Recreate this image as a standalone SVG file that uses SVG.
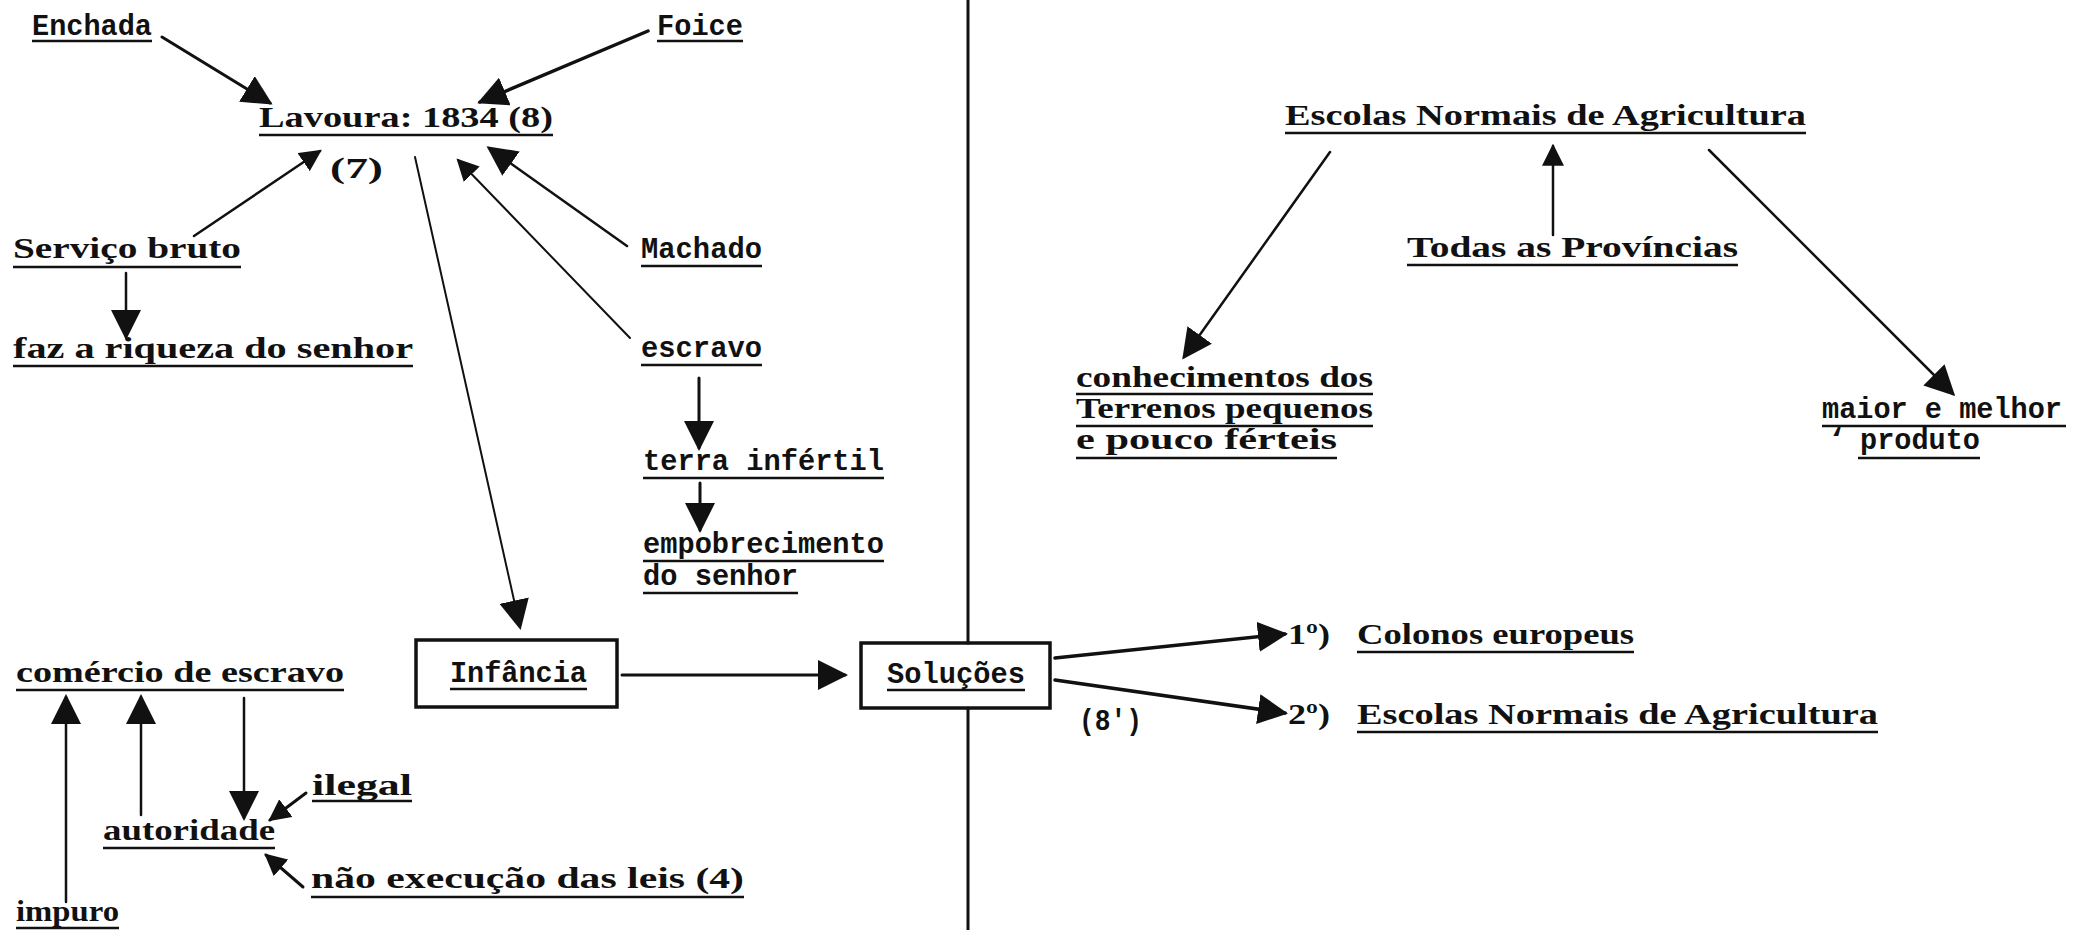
<svg xmlns="http://www.w3.org/2000/svg" width="2073" height="930" viewBox="0 0 2073 930">
  <defs>
    <style>
      .w { font-family: "Liberation Mono", "DejaVu Sans Mono", monospace; font-weight: bold; font-size: 30px; fill: #111; }
      .c { font-family: "Liberation Serif", "DejaVu Serif", serif; font-weight: bold; font-size: 30px; fill: #111; }
      .ul { stroke: #111; stroke-width: 2.5; fill: none; }
      .ln { stroke: #111; fill: none; stroke-linecap: round; }
      .box { stroke: #111; stroke-width: 3.5; fill: none; }
    </style>
    <marker id="ah" markerUnits="userSpaceOnUse" markerWidth="30" markerHeight="30" viewBox="0 0 10 10" refX="9" refY="5" orient="auto">
      <path d="M0,0 L10,5 L0,10 z" fill="#111"/>
    </marker>
    <marker id="ahs" markerUnits="userSpaceOnUse" markerWidth="22" markerHeight="22" viewBox="0 0 10 10" refX="9" refY="5" orient="auto">
      <path d="M0,0 L10,5 L0,10 z" fill="#111"/>
    </marker>
  </defs>

  <!-- divider between the two halves -->
  <g id="divider">
    <line class="ln" x1="968" y1="0" x2="968" y2="643" stroke-width="3"/>
    <line class="ln" x1="968" y1="708" x2="968" y2="930" stroke-width="3"/>
  </g>

  <!-- connectors -->
  <g id="connectors">
    <line class="ln" x1="162" y1="37" x2="270" y2="103" stroke-width="3" marker-end="url(#ah)"/>
    <line class="ln" x1="648" y1="31" x2="480" y2="102" stroke-width="3.5" marker-end="url(#ah)"/>
    <line class="ln" x1="194" y1="236" x2="320" y2="151" stroke-width="2.5" marker-end="url(#ahs)"/>
    <line class="ln" x1="627" y1="246" x2="489" y2="148" stroke-width="2.5" marker-end="url(#ah)"/>
    <line class="ln" x1="630" y1="338" x2="458" y2="160" stroke-width="2" marker-end="url(#ahs)"/>
    <line class="ln" x1="415" y1="157" x2="520" y2="627" stroke-width="2" marker-end="url(#ah)"/>
    <line class="ln" x1="126" y1="273" x2="126" y2="337" stroke-width="2.5" marker-end="url(#ah)"/>
    <line class="ln" x1="699" y1="378" x2="699" y2="448" stroke-width="3" marker-end="url(#ah)"/>
    <line class="ln" x1="700" y1="483" x2="700" y2="530" stroke-width="3" marker-end="url(#ah)"/>
    <line class="ln" x1="622" y1="675" x2="845" y2="675" stroke-width="3" marker-end="url(#ah)"/>
    <line class="ln" x1="1055" y1="658" x2="1285" y2="634" stroke-width="3.5" marker-end="url(#ah)"/>
    <line class="ln" x1="1055" y1="680" x2="1285" y2="713" stroke-width="3.5" marker-end="url(#ah)"/>
    <line class="ln" x1="66" y1="902" x2="66" y2="697" stroke-width="2.5" marker-end="url(#ah)"/>
    <line class="ln" x1="141" y1="815" x2="141" y2="697" stroke-width="2.5" marker-end="url(#ah)"/>
    <line class="ln" x1="244" y1="698" x2="244" y2="818" stroke-width="2.5" marker-end="url(#ah)"/>
    <line class="ln" x1="306" y1="793" x2="270" y2="820" stroke-width="3" marker-end="url(#ahs)"/>
    <line class="ln" x1="303" y1="887" x2="266" y2="855" stroke-width="3" marker-end="url(#ahs)"/>
    <line class="ln" x1="1330" y1="152" x2="1184" y2="357" stroke-width="2.5" marker-end="url(#ah)"/>
    <line class="ln" x1="1553" y1="235" x2="1553" y2="146" stroke-width="2.5" marker-end="url(#ahs)"/>
    <line class="ln" x1="1709" y1="150" x2="1953" y2="394" stroke-width="2.5" marker-end="url(#ah)"/>
  </g>

  <g id="enchada">
    <text class="w" x="32" y="35" textLength="120" lengthAdjust="spacingAndGlyphs">Enchada</text>
    <line class="ul" x1="32" y1="41" x2="152" y2="41"/>
  </g>
  <g id="foice">
    <text class="w" x="657" y="35" textLength="86" lengthAdjust="spacingAndGlyphs">Foice</text>
    <line class="ul" x1="657" y1="41" x2="743" y2="41"/>
  </g>
  <g id="lavoura">
    <text class="c" x="259" y="127" textLength="294" lengthAdjust="spacingAndGlyphs">Lavoura: 1834 (8)</text>
    <line class="ul" x1="259" y1="135" x2="553" y2="135"/>
    <text class="c" x="330" y="178" font-size="46" textLength="53" lengthAdjust="spacingAndGlyphs">(7)</text>
  </g>
  <g id="servico">
    <text class="c" x="13" y="258" textLength="228" lengthAdjust="spacingAndGlyphs">Serviço bruto</text>
    <line class="ul" x1="13" y1="267" x2="241" y2="267"/>
  </g>
  <g id="riqueza">
    <text class="c" x="13" y="358" textLength="400" lengthAdjust="spacingAndGlyphs">faz a riqueza do senhor</text>
    <line class="ul" x1="13" y1="366" x2="413" y2="366"/>
  </g>
  <g id="machado">
    <text class="w" x="641" y="258" textLength="121" lengthAdjust="spacingAndGlyphs">Machado</text>
    <line class="ul" x1="641" y1="266" x2="762" y2="266"/>
  </g>
  <g id="escravo">
    <text class="w" x="641" y="357" textLength="121" lengthAdjust="spacingAndGlyphs">escravo</text>
    <line class="ul" x1="641" y1="365" x2="762" y2="365"/>
  </g>
  <g id="terra">
    <text class="w" x="643" y="470" textLength="241" lengthAdjust="spacingAndGlyphs">terra infértil</text>
    <line class="ul" x1="643" y1="478" x2="884" y2="478"/>
  </g>
  <g id="empobrecimento">
    <text class="w" x="643" y="553" textLength="241" lengthAdjust="spacingAndGlyphs">empobrecimento</text>
    <line class="ul" x1="643" y1="561" x2="884" y2="561"/>
    <text class="w" x="643" y="585" textLength="155" lengthAdjust="spacingAndGlyphs">do senhor</text>
    <line class="ul" x1="643" y1="593" x2="798" y2="593"/>
  </g>
  <g id="infancia">
    <rect class="box" x="416" y="640" width="201" height="67"/>
    <text class="w" x="450" y="682" textLength="137" lengthAdjust="spacingAndGlyphs">Infância</text>
    <line class="ul" x1="450" y1="689" x2="587" y2="689"/>
  </g>
  <g id="solucoes">
    <rect class="box" x="861" y="643" width="189" height="65"/>
    <text class="w" x="887" y="683" textLength="138" lengthAdjust="spacingAndGlyphs">Soluções</text>
    <line class="ul" x1="887" y1="690" x2="1025" y2="690"/>
  </g>
  <g id="comercio">
    <text class="c" x="16" y="682" textLength="328" lengthAdjust="spacingAndGlyphs">comércio de escravo</text>
    <line class="ul" x1="16" y1="690" x2="344" y2="690"/>
  </g>
  <g id="ilegal">
    <text class="c" x="312" y="795" textLength="100" lengthAdjust="spacingAndGlyphs">ilegal</text>
    <line class="ul" x1="312" y1="801" x2="412" y2="801"/>
  </g>
  <g id="autoridade">
    <text class="c" x="103" y="840" textLength="172" lengthAdjust="spacingAndGlyphs">autoridade</text>
    <line class="ul" x1="103" y1="848" x2="275" y2="848"/>
  </g>
  <g id="nao-execucao">
    <text class="c" x="311" y="888" textLength="433" lengthAdjust="spacingAndGlyphs">não execução das leis (4)</text>
    <line class="ul" x1="311" y1="897" x2="744" y2="897"/>
  </g>
  <g id="impuro">
    <text class="c" x="16" y="921" textLength="103" lengthAdjust="spacingAndGlyphs">impuro</text>
    <line class="ul" x1="16" y1="928" x2="119" y2="928"/>
  </g>
  <g id="nota-8">
    <text class="w" x="1079" y="730" textLength="63" lengthAdjust="spacingAndGlyphs">(8')</text>
  </g>
  <g id="colonos">
    <text class="c" x="1288" y="644" textLength="42" lengthAdjust="spacingAndGlyphs">1º)</text>
    <text class="c" x="1357" y="644" textLength="277" lengthAdjust="spacingAndGlyphs">Colonos europeus</text>
    <line class="ul" x1="1357" y1="652" x2="1634" y2="652"/>
  </g>
  <g id="escolas-2">
    <text class="c" x="1288" y="724" textLength="42" lengthAdjust="spacingAndGlyphs">2º)</text>
    <text class="c" x="1357" y="724" textLength="521" lengthAdjust="spacingAndGlyphs">Escolas Normais de Agricultura</text>
    <line class="ul" x1="1357" y1="732" x2="1878" y2="732"/>
  </g>
  <g id="escolas">
    <text class="c" x="1285" y="125" textLength="521" lengthAdjust="spacingAndGlyphs">Escolas Normais de Agricultura</text>
    <line class="ul" x1="1285" y1="133" x2="1806" y2="133"/>
  </g>
  <g id="provincias">
    <text class="c" x="1407" y="257" textLength="331" lengthAdjust="spacingAndGlyphs">Todas as Províncias</text>
    <line class="ul" x1="1407" y1="265" x2="1738" y2="265"/>
  </g>
  <g id="conhecimentos">
    <text class="c" x="1076" y="387" textLength="297" lengthAdjust="spacingAndGlyphs">conhecimentos dos</text>
    <line class="ul" x1="1076" y1="394" x2="1373" y2="394"/>
    <text class="c" x="1076" y="418" textLength="297" lengthAdjust="spacingAndGlyphs">Terrenos pequenos</text>
    <line class="ul" x1="1076" y1="426" x2="1373" y2="426"/>
    <text class="c" x="1076" y="449" textLength="261" lengthAdjust="spacingAndGlyphs">e pouco férteis</text>
    <line class="ul" x1="1076" y1="458" x2="1337" y2="458"/>
  </g>
  <g id="produto">
    <text class="w" x="1822" y="418" textLength="240" lengthAdjust="spacingAndGlyphs">maior e melhor</text>
    <line class="ul" x1="1822" y1="426" x2="2066" y2="426"/>
    <text class="w" x="1828" y="449">‘</text>
    <text class="w" x="1860" y="449" textLength="120" lengthAdjust="spacingAndGlyphs">produto</text>
    <line class="ul" x1="1858" y1="458" x2="1980" y2="458"/>
  </g>
</svg>
